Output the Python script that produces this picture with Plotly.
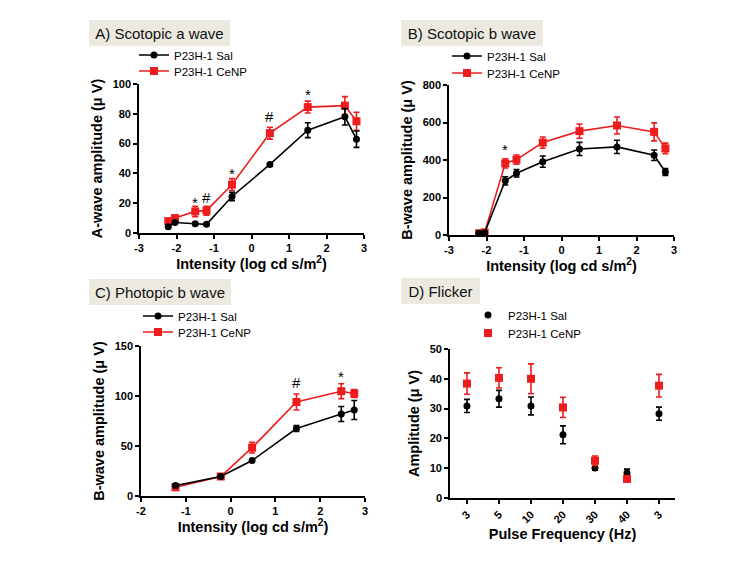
import plotly.graph_objects as go

# ---------------- data ----------------
series_names = ["P23H-1 Sal", "P23H-1 CeNP"]

A_x = [-2.22, -2.04, -1.5, -1.2, -0.52, 0.49, 1.5, 2.49, 2.8]
A_sal = [4.2, 7.0, 6.2, 5.8, 24.5, 46.0, 69.0, 78.0, 63.0]
A_sal_err = [1.0, 1.0, 0.8, 0.8, 2.8, 1.0, 5.0, 5.5, 5.5]
A_cenp = [8.0, 10.0, 14.5, 15.0, 32.5, 67.0, 84.5, 85.5, 75.0]
A_cenp_err = [1.5, 1.5, 3.5, 3.0, 4.0, 4.0, 4.0, 6.0, 6.0]
A_sig_x = [-1.5, -1.2, -0.52, 0.49, 1.5]
A_sig_y = [22, 24, 41.5, 78, 94]
A_sig_t = ["*", "#", "*", "#", "*"]
A_xticks = [-3, -2, -1, 0, 1, 2, 3]

B_x = [-2.2, -2.05, -1.5, -1.2, -0.5, 0.48, 1.48, 2.47, 2.77]
B_sal = [9, 12, 289, 329, 391, 459, 470, 425, 336]
B_sal_err = [8, 8, 22, 20, 30, 35, 35, 28, 18]
B_cenp = [9, 14, 382, 402, 493, 554, 584, 550, 462]
B_cenp_err = [8, 8, 25, 25, 30, 38, 45, 48, 28]
B_sig_x = [-1.5]
B_sig_y = [464]
B_sig_t = ["*"]
B_xticks = [-3, -2, -1, 0, 1, 2, 3]

C_x = [-1.23, -0.22, 0.48, 1.47, 2.47, 2.76]
C_sal = [10.4, 19.5, 35.5, 67.5, 82.0, 86.0]
C_sal_err = [1.0, 1.0, 1.0, 3.0, 7.5, 9.5]
C_cenp = [8.7, 19.5, 48.3, 94.0, 104.8, 102.5]
C_cenp_err = [1.5, 1.0, 5.3, 8.0, 7.4, 4.0]
C_sig_x = [1.47, 2.47]
C_sig_y = [114, 121.5]
C_sig_t = ["#", "*"]
C_xticks = [-2, -1, 0, 1, 2, 3]

D_labels = ["3", "5", "10", "20", "30", "40", "3"]
D_sal = [30.9, 33.3, 30.9, 21.2, 10.1, 8.4, 28.3]
D_sal_err = [2.2, 2.8, 3.0, 3.0, 0.8, 1.3, 2.2]
D_cenp = [38.4, 40.3, 40.0, 30.4, 12.5, 6.4, 37.7]
D_cenp_err = [3.6, 3.4, 5.0, 3.4, 1.6, 0.6, 3.8]

panel_titles = ["A) Scotopic a wave", "B) Scotopic b wave", "C) Photopic b wave", "D) Flicker"]

# ---------------- styling ----------------
W, H = 750, 563
FONT = "Liberation Sans, Arial, sans-serif"
BLACK = "#000000"
RED = "#ee1c1c"
BOX = "#ebe9e0"


def px_x(p):
    return p / W


def px_y(p):
    return 1 - p / H


fig = go.Figure()


def add_pair(xs, sal, sal_err, cenp, cenp_err, xa, ya, leg_sal, leg_cenp, mode):
    fig.add_trace(go.Scatter(
        x=xs, y=cenp, mode=mode, name=series_names[1], xaxis=xa, yaxis=ya,
        legend=leg_cenp, showlegend=True,
        line=dict(color=RED, width=1.6),
        marker=dict(symbol="square", size=8, color=RED),
        error_y=dict(type="data", array=cenp_err, color=RED, thickness=1.6, width=3),
    ))
    fig.add_trace(go.Scatter(
        x=xs, y=sal, mode=mode, name=series_names[0], xaxis=xa, yaxis=ya,
        legend=leg_sal, showlegend=True,
        line=dict(color=BLACK, width=1.6),
        marker=dict(symbol="circle", size=7, color=BLACK),
        error_y=dict(type="data", array=sal_err, color=BLACK, thickness=1.6, width=3),
    ))


add_pair(A_x, A_sal, A_sal_err, A_cenp, A_cenp_err, "x", "y", "legend", "legend2", "lines+markers")
add_pair(B_x, B_sal, B_sal_err, B_cenp, B_cenp_err, "x2", "y2", "legend3", "legend4", "lines+markers")
add_pair(C_x, C_sal, C_sal_err, C_cenp, C_cenp_err, "x3", "y3", "legend5", "legend6", "lines+markers")

D_pos = list(range(len(D_labels)))
fig.add_trace(go.Scatter(
    x=D_pos, y=D_sal, mode="markers", name=series_names[0], xaxis="x4", yaxis="y4",
    legend="legend7", showlegend=True,
    marker=dict(symbol="circle", size=7, color=BLACK),
    error_y=dict(type="data", array=D_sal_err, color=BLACK, thickness=1.6, width=3),
))
fig.add_trace(go.Scatter(
    x=D_pos, y=D_cenp, mode="markers", name=series_names[1], xaxis="x4", yaxis="y4",
    legend="legend8", showlegend=True,
    marker=dict(symbol="square", size=8, color=RED),
    error_y=dict(type="data", array=D_cenp_err, color=RED, thickness=1.6, width=3),
))

tick_font = dict(family=FONT, size=11, color=BLACK, weight="bold")
title_font = dict(family=FONT, size=14.5, color=BLACK, weight="bold")


def xaxis(domain, rng, anchor, title, tickvals, ticktext, tickangle=0, standoff=6):
    return dict(domain=domain, range=rng, anchor=anchor, showline=True, linecolor=BLACK,
                linewidth=1.6, ticks="outside", ticklen=4, tickwidth=1.6, tickcolor=BLACK,
                showgrid=False, zeroline=False, tickfont=tick_font, automargin=False,
                tickmode="array", tickvals=tickvals, ticktext=ticktext,
                title=dict(text=title, font=title_font, standoff=standoff), tickangle=tickangle)


def yaxis(domain, rng, anchor, title, dtick):
    return dict(domain=domain, range=rng, anchor=anchor, showline=True, linecolor=BLACK,
                linewidth=1.6, ticks="outside", ticklen=4, tickwidth=1.6, tickcolor=BLACK,
                showgrid=False, zeroline=False, tickfont=tick_font, automargin=False,
                tick0=0, dtick=dtick, title=dict(text=title, font=title_font, standoff=7))


def labels(vals):
    return [str(v) for v in vals]


xt = "Intensity (log cd s/m<sup>2</sup>)"
fig.update_layout(
    xaxis=xaxis([px_x(131), px_x(356)], [-3, 3], "y", xt, A_xticks, labels(A_xticks)),
    yaxis=yaxis([px_y(225), px_y(76)], [0, 100], "x", "A-wave amplitude (\u03bc V)", 20),
    xaxis2=xaxis([px_x(441), px_x(666)], [-3, 3], "y2", xt, B_xticks, labels(B_xticks)),
    yaxis2=yaxis([px_y(227), px_y(77)], [0, 800], "x2", "B-wave amplitude (\u03bc V)", 200),
    xaxis3=xaxis([px_x(133), px_x(357)], [-2, 3], "y3", xt, C_xticks, labels(C_xticks)),
    yaxis3=yaxis([px_y(488), px_y(338)], [0, 150], "x3", "B-wave amplitude (\u03bc V)", 50),
    xaxis4=xaxis([px_x(442), px_x(667)], [-0.53, 6.5], "y4", "Pulse Frequency (Hz)",
                 D_pos, D_labels, tickangle=-45, standoff=4),
    yaxis4=yaxis([px_y(490), px_y(341)], [0, 50], "x4", "Amplitude (\u03bc V)", 10),
)

leg_common = dict(font=dict(family=FONT, size=11.5, color=BLACK), bgcolor="rgba(0,0,0,0)",
                  xanchor="left", yanchor="middle", itemwidth=30, tracegroupgap=0,
                  visible=True)
legend_pos = {
    "legend": (126, 47), "legend2": (126, 63),
    "legend3": (439, 48), "legend4": (439, 65),
    "legend5": (130, 308), "legend6": (130, 324),
    "legend7": (460, 307), "legend8": (460, 325),
}
fig.update_layout(**{k: dict(x=px_x(a), y=px_y(b), **leg_common) for k, (a, b) in legend_pos.items()})

annotations = []
title_boxes = [(81, 25, 141), (393, 25, 142), (81, 284, 142), (393, 283, 79)]
for t, (bx, by, bw) in zip(panel_titles, title_boxes):
    annotations.append(dict(
        text=t, xref="paper", yref="paper", x=px_x(bx), y=px_y(by),
        xanchor="left", yanchor="middle", showarrow=False, bgcolor=BOX,
        borderwidth=0, borderpad=3, width=bw - 6, height=20, align="center",
        font=dict(family=FONT, size=15, color="#111111"),
    ))

for sx, sy, st, xr, yr in [
    (A_sig_x, A_sig_y, A_sig_t, "x", "y"),
    (B_sig_x, B_sig_y, B_sig_t, "x2", "y2"),
    (C_sig_x, C_sig_y, C_sig_t, "x3", "y3"),
]:
    for a, b, t in zip(sx, sy, st):
        annotations.append(dict(
            text=t, x=a, y=b, xref=xr, yref=yr, showarrow=False,
            xanchor="center", yanchor="middle", yshift=(-2 if t == "*" else 0),
            font=dict(family=FONT, size=15, color=BLACK),
        ))

fig.update_layout(
    width=W, height=H, margin=dict(l=0, r=0, t=0, b=0), showlegend=True,
    paper_bgcolor="white", plot_bgcolor="white", annotations=annotations,
    font=dict(family=FONT, color=BLACK),
)

fig.write_html("out.html")
